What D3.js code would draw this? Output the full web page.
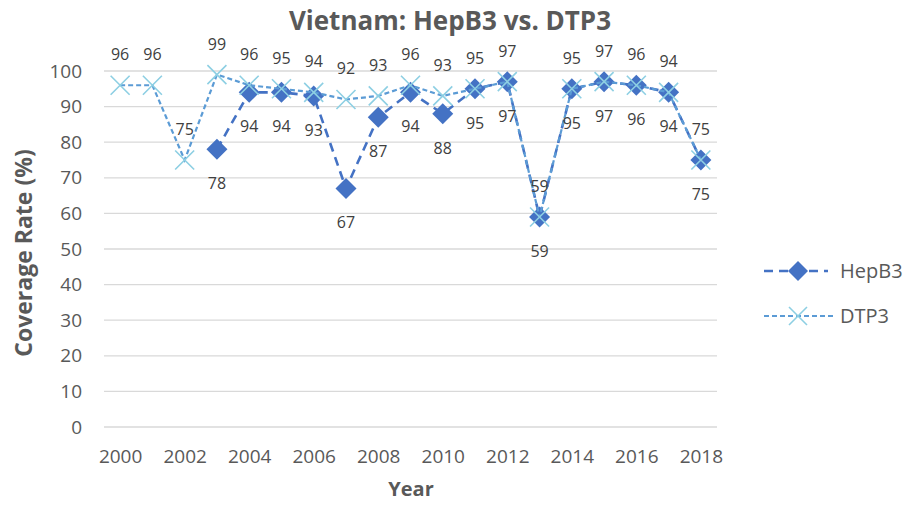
<!DOCTYPE html>
<html>
<head>
<meta charset="utf-8">
<script src="https://cdn.jsdelivr.net/npm/d3@7"></script>
<style>
  body { margin: 0; background: #fff; }
  text { font-family: "Open Sans", "Noto Sans", sans-serif; }
</style>
</head>
<body>
<div id="chart"></div>
<script>
var years = ["2000","2001","2002","2003","2004","2005","2006","2007","2008","2009",
             "2010","2011","2012","2013","2014","2015","2016","2017","2018"];
var hepb3 = [null, null, null, 78, 94, 94, 93, 67, 87, 94, 88, 95, 97, 59, 95, 97, 96, 94, 75];
var dtp3  = [96, 96, 75, 99, 96, 95, 94, 92, 93, 96, 93, 95, 97, 59, 95, 97, 96, 94, 75];
var yTicks = [0, 10, 20, 30, 40, 50, 60, 70, 80, 90, 100];

var svgWidth = 918, svgHeight = 505;
var margin = { top: 71, right: 201, bottom: 78, left: 104 };
var width = svgWidth - margin.left - margin.right;
var height = svgHeight - margin.top - margin.bottom;

var svg = d3.select("#chart").append("svg")
  .attr("width", svgWidth)
  .attr("height", svgHeight);

var chartGroup = svg.append("g")
  .attr("transform", `translate(${margin.left}, ${margin.top})`);

var xScale = d3.scalePoint().domain(years).range([0, width]).padding(0.5);
var yScale = d3.scaleLinear().domain([0, 100]).range([height, 0]);

// gridlines
chartGroup.append("g")
  .selectAll("line")
  .data(yTicks)
  .enter().append("line")
  .attr("x1", 0).attr("x2", width)
  .attr("y1", d => yScale(d)).attr("y2", d => yScale(d))
  .attr("stroke", "#d9d9d9").attr("stroke-width", 1.3);

// y axis labels
var leftAxis = d3.axisLeft(yScale).tickValues(yTicks).tickSize(0).tickPadding(22);
var yAxisG = chartGroup.append("g").call(leftAxis);
yAxisG.select(".domain").remove();
yAxisG.selectAll("text").attr("font-size", 19).attr("fill", "#595959");

// x axis labels
var bottomAxis = d3.axisBottom(xScale)
  .tickValues(years.filter((d, i) => i % 2 === 0))
  .tickSize(0).tickPadding(23);
var xAxisG = chartGroup.append("g")
  .attr("transform", `translate(0, ${height})`)
  .call(bottomAxis);
xAxisG.select(".domain").remove();
xAxisG.selectAll("text").attr("font-size", 19).attr("fill", "#595959");

var lineGen = d3.line()
  .defined(d => d.v !== null)
  .x(d => xScale(d.y))
  .y(d => yScale(d.v));

var hepData = years.map((y, i) => ({ y: y, v: hepb3[i] }));
var dtpData = years.map((y, i) => ({ y: y, v: dtp3[i] }));

var hepColor = "#4472C4", dtpLine = "#5B9BD5", dtpMark = "#8DCFE3";

function diamond(g, x, y, s) {
  g.append("path")
    .attr("d", `M${x},${y - s}L${x + s},${y}L${x},${y + s}L${x - s},${y}Z`)
    .attr("fill", hepColor);
}
function cross(g, x, y, s) {
  g.append("path")
    .attr("d", `M${x - s},${y - s}L${x + s},${y + s}M${x - s},${y + s}L${x + s},${y - s}`)
    .attr("stroke", dtpMark).attr("stroke-width", 1.6).attr("fill", "none");
}

// HepB3 line + markers
chartGroup.append("path")
  .datum(hepData)
  .attr("d", lineGen)
  .attr("fill", "none")
  .attr("stroke", hepColor)
  .attr("stroke-width", 2.6)
  .attr("stroke-dasharray", "9,6");

var hepMarks = chartGroup.append("g");
hepData.filter(d => d.v !== null).forEach(function(d) {
  diamond(hepMarks, xScale(d.y), yScale(d.v), 10.5);
});

// DTP3 line + markers
chartGroup.append("path")
  .datum(dtpData)
  .attr("d", lineGen)
  .attr("fill", "none")
  .attr("stroke", dtpLine)
  .attr("stroke-width", 2.2)
  .attr("stroke-dasharray", "5,3");

var dtpMarks = chartGroup.append("g");
dtpData.forEach(function(d) {
  cross(dtpMarks, xScale(d.y), yScale(d.v), 9.5);
});

// data labels
chartGroup.append("g").selectAll("text")
  .data(dtpData)
  .enter().append("text")
  .attr("x", d => xScale(d.y))
  .attr("y", d => yScale(d.v) - 25)
  .attr("text-anchor", "middle")
  .attr("font-size", 16)
  .attr("fill", "#404040")
  .text(d => d.v);

chartGroup.append("g").selectAll("text")
  .data(hepData.filter(d => d.v !== null))
  .enter().append("text")
  .attr("x", d => xScale(d.y))
  .attr("y", d => yScale(d.v) + 40)
  .attr("text-anchor", "middle")
  .attr("font-size", 16)
  .attr("fill", "#404040")
  .text(d => d.v);

// title
svg.append("text")
  .attr("x", 450).attr("y", 30)
  .attr("text-anchor", "middle")
  .attr("font-size", 26).attr("font-weight", "bold")
  .attr("fill", "#595959")
  .text("Vietnam: HepB3 vs. DTP3");

// axis titles
svg.append("text")
  .attr("transform", `translate(32, 253) rotate(-90)`)
  .attr("text-anchor", "middle")
  .attr("font-size", 23).attr("font-weight", "bold")
  .attr("fill", "#595959")
  .text("Coverage Rate (%)");

svg.append("text")
  .attr("x", 411).attr("y", 496)
  .attr("text-anchor", "middle")
  .attr("font-size", 20).attr("font-weight", "bold")
  .attr("fill", "#595959")
  .text("Year");

// legend
var legend = svg.append("g");
var lg1 = legend.append("g");
lg1.append("line").attr("x1", 764).attr("x2", 828).attr("y1", 271).attr("y2", 271)
  .attr("stroke", hepColor).attr("stroke-width", 2.6).attr("stroke-dasharray", "9,6");
diamond(lg1, 798, 271, 10);
lg1.append("text").attr("x", 840).attr("y", 278).attr("font-size", 20).attr("fill", "#595959").text("HepB3");

var lg2 = legend.append("g");
lg2.append("line").attr("x1", 764).attr("x2", 833).attr("y1", 316).attr("y2", 316)
  .attr("stroke", dtpLine).attr("stroke-width", 2.2).attr("stroke-dasharray", "5,3");
cross(lg2, 798, 316, 9);
lg2.append("text").attr("x", 840).attr("y", 323).attr("font-size", 20).attr("fill", "#595959").text("DTP3");
</script>
</body>
</html>
